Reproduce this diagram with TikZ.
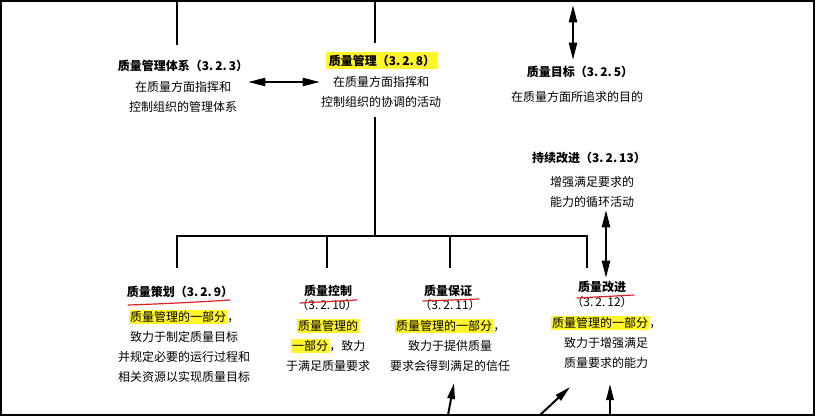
\documentclass[tikz,border=0pt]{standalone}
\usepackage{fontspec}
\setmainfont{Noto Sans CJK SC}
\usetikzlibrary{arrows.meta}
\definecolor{hly}{RGB}{255,245,40}
\definecolor{penred}{RGB}{222,32,40}
\newcommand{\hlt}[1]{{\setlength{\fboxsep}{1pt}\colorbox{hly}{#1}}}
\newcommand{\hltb}[1]{{\setlength{\fboxsep}{2pt}\colorbox{hly}{#1}}}
\begin{document}
\begin{tikzpicture}[x=0.75pt,y=-0.75pt,
  txt/.style={align=center, inner sep=0pt, anchor=north, font=\fontsize{9}{15}\selectfont},
  ttl/.style={align=center, inner sep=0pt, anchor=north, font=\fontsize{9}{15}\selectfont\bfseries},
  tree/.style={line width=1.7pt},
  dbl/.style={line width=1.7pt, {Triangle[length=13pt,width=6pt]}-{Triangle[length=13pt,width=6pt]}},
  arr/.style={line width=1.5pt, -{Triangle[length=12pt,width=5.5pt]}},
  redmark/.style={draw=penred, line width=0.9pt, line cap=round}]
\useasboundingbox (0,0) rectangle (816,416);
\draw[line width=1.2pt] (1,1) rectangle (814,415);

% nodes
\node[ttl] (qmst) at (183,60) {质量管理体系（3.\,2.\,3）};
\node[txt] (qmsb) at (183,81) {在质量方面指挥和\\控制组织的管理体系};
\node[ttl] (qmt) at (382,52) {\hltb{质量管理（3.\,2.\,8）}};
\node[txt] (qmb) at (381,76) {在质量方面指挥和\\控制组织的协调的活动};
\node[ttl] (qot) at (580,66) {质量目标（3.\,2.\,5）};
\node[txt] (qob) at (577,91) {在质量方面所追求的目的};
\node[ttl] (cit) at (589,152) {持续改进（3.\,2.\,13）};
\node[txt] (cib) at (592,176) {增强满足要求的\\能力的循环活动};
\node[ttl] (qpt) at (180,286) {质量策划（3.\,2.\,9）};
\node[txt] (qpb) at (184,310) {\hlt{质量管理的一部分}，\\致力于制定质量目标\\并规定必要的运行过程和\\相关资源以实现质量目标};
\node[ttl] (qct) at (328,285) {质量控制};
\node[txt] (qcn) at (327,299) {（3.\,2.\,10）};
\node[txt] (qcb) at (328,319) {\hlt{质量管理的}\\\hlt{一部分}，致力\\于满足质量要求};
\node[ttl] (qat) at (448,285) {质量保证};
\node[txt] (qan) at (450,299) {（3.\,2.\,11）};
\node[txt] (qab) at (450,319) {\hlt{质量管理的一部分}，\\致力于提供质量\\要求会得到满足的信任};
\node[ttl] (qit) at (602,281) {质量改进};
\node[txt] (qin) at (602,296) {（3.\,2.\,12）};
\node[txt] (qib) at (606,316) {\hlt{质量管理的一部分}，\\致力于增强满足\\质量要求的能力};

% coordinates
\coordinate (t1) at (177,1);   \coordinate (t1e) at (177,45);
\coordinate (t2) at (375,1);   \coordinate (t2e) at (375,43);
\coordinate (s1) at (375,117); \coordinate (s2) at (375,236);
\coordinate (bl) at (177,236); \coordinate (br) at (587,236);
\coordinate (d1) at (177,268); \coordinate (d2) at (327,268);
\coordinate (d3) at (450,268); \coordinate (d4) at (587,268);
\coordinate (h1) at (248,82);  \coordinate (h2) at (320,82);
\coordinate (v1) at (573,5);   \coordinate (v2) at (573,60);
\coordinate (c1) at (606,210); \coordinate (c2) at (606,278);

% tree
\draw[tree] (t1) -- (t1e);
\draw[tree] (t2) -- (t2e);
\draw[tree] (s1) -- (s2);
\draw[tree] (d1) -- (bl) -- (br) -- (d4);
\draw[tree] (d2) -- (d2 |- bl);
\draw[tree] (d3) -- (d3 |- bl);

% double arrows
\draw[dbl] (h1) -- (h2);
\draw[dbl] (v1) -- (v2);
\draw[dbl] (c1) -- (c2);

% bottom arrows
\coordinate (b1) at (448,415); \coordinate (b1e) at (454,383);
\coordinate (b2) at (540,415); \coordinate (b2e) at (570,387);
\coordinate (b3) at (610,415); \coordinate (b3e) at (610,384);
\draw[arr] (b1) -- (b1e);
\draw[arr] (b2) -- (b2e);
\draw[arr] (b3) -- (b3e);

% red pen marks
\draw[redmark] (128,305) .. controls (160,304) and (200,302) .. (230,300);
\draw[redmark] (300,303) -- (357,300);
\draw[redmark] (423,301) -- (479,299);
\draw[redmark] (577,298) -- (634,295);
\end{tikzpicture}
\end{document}
